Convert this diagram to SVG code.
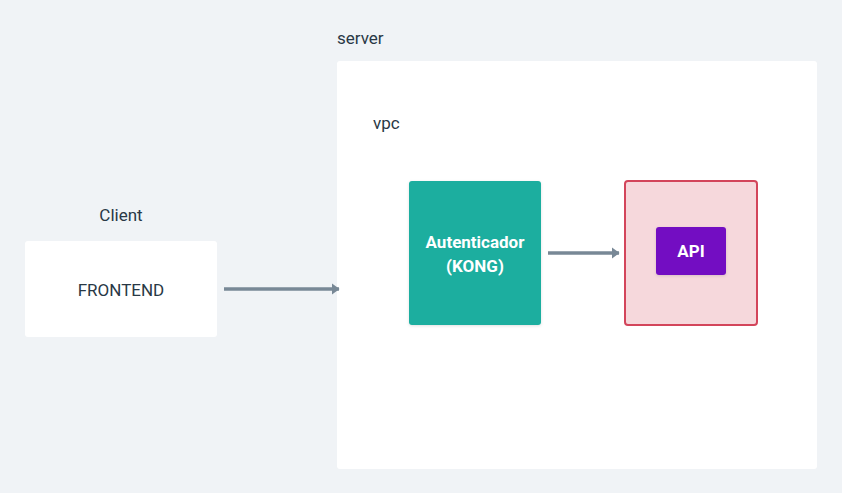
<svg xmlns="http://www.w3.org/2000/svg" width="842" height="493" viewBox="0 0 842 493">
<defs>
<style>
text{font-family:Roboto,Inter,"Noto Sans","Liberation Sans",sans-serif;font-size:17px;fill:#293845}
.w{fill:#ffffff;font-weight:bold;font-size:17px}
.c{stroke:#788896;stroke-width:3.5;fill:none}
</style>
<marker id="ah" viewBox="0 0 7 10" refX="6.5" refY="5" markerWidth="2.2" markerHeight="3.2" orient="auto" markerUnits="strokeWidth">
<path d="M0,0 L7,5 L0,10 z" fill="#788896"/>
</marker>
<filter id="sh" x="-20%" y="-20%" width="140%" height="140%">
<feDropShadow dx="0" dy="1" stdDeviation="1.5" flood-color="#000" flood-opacity="0.12"/>
</filter>
</defs>
<rect width="842" height="493" fill="#f0f3f6"/>
<g id="server">
<text x="337" y="44">server</text>
<rect x="337" y="61" width="480" height="408" rx="3" fill="#ffffff"/>
<text x="373" y="129">vpc</text>
</g>
<g id="client">
<text x="121" y="221" text-anchor="middle">Client</text>
<rect x="25" y="241" width="192" height="96" rx="3" fill="#ffffff"/>
<text x="121" y="296" text-anchor="middle">FRONTEND</text>
</g>
<g id="kong">
<rect x="409" y="181" width="132" height="144" rx="3" fill="#1aae9f" filter="url(#sh)"/>
<text class="w" x="475" y="248" text-anchor="middle">Autenticador</text>
<text class="w" x="475" y="272" text-anchor="middle">(KONG)</text>
</g>
<g id="api-container">
<rect x="625" y="181" width="132" height="144" rx="3" fill="#f6d8dc" stroke="#d3455b" stroke-width="2"/>
</g>
<g id="api">
<rect x="656" y="227" width="70" height="48" rx="3" fill="#7310c2" filter="url(#sh)"/>
<text class="w" x="691" y="257" text-anchor="middle">API</text>
</g>
<g id="connectors">
<line class="c" x1="224" y1="289" x2="339" y2="289" marker-end="url(#ah)"/>
<line class="c" x1="548" y1="253" x2="619" y2="253" marker-end="url(#ah)"/>
</g>
</svg>
